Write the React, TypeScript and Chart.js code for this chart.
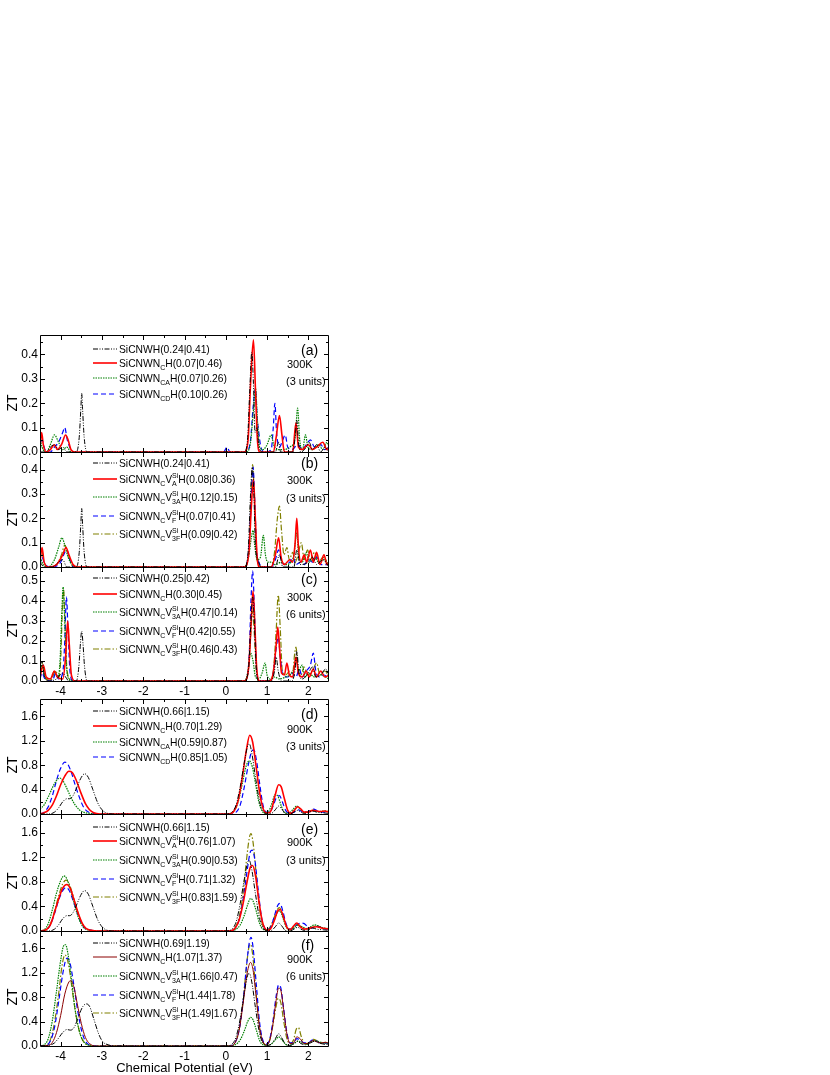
import React, { useEffect, useLayoutEffect, useRef } from 'react';
import { Chart, registerables } from 'chart.js';
Chart.register(...registerables);

type P = [number, number][];

const FONT = '"Liberation Sans", Arial, Helvetica, sans-serif';

const xMin = -4.5;
const xMax = 2.5;
const xTickValues = [-4, -3, -2, -1, 0, 1, 2];
const xTitle = 'Chemical Potential (eV)';
const yTitle = 'ZT';

const yTicksA = [0, 0.1, 0.2, 0.3, 0.4];
const yTicksC = [0, 0.1, 0.2, 0.3, 0.4, 0.5];
const yTicksD = [0, 0.4, 0.8, 1.2, 1.6];

// ---------------- panel (a) 300K 3 units ----------------
const a_SiCNWH: P = [[-4.5,0],[-4.35,0],[-4.25,0.02],[-4.15,0.03],[-4.05,0.01],[-3.95,0.02],[-3.85,0],[-3.62,0],[-3.55,0.06],[-3.51,0.18],[-3.49,0.24],[-3.47,0.18],[-3.43,0.06],[-3.36,0],[0.45,0],[0.53,0.06],[0.58,0.25],[0.63,0.41],[0.67,0.28],[0.71,0.08],[0.76,0.1],[0.8,0.02],[0.9,0],[1.2,0],[1.28,0.04],[1.33,0],[1.62,0],[1.68,0.06],[1.72,0.13],[1.76,0.04],[1.82,0],[1.95,0.02],[2.02,0.04],[2.1,0.01],[2.2,0.03],[2.3,0],[2.4,0.02],[2.5,0]];
const a_NC: P = [[-4.5,0.02],[-4.46,0.08],[-4.42,0.03],[-4.35,0],[-4.25,0.01],[-4.15,0.03],[-4.08,0.01],[-3.98,0.03],[-3.88,0.07],[-3.82,0.05],[-3.75,0.01],[-3.65,0],[0.45,0],[0.54,0.05],[0.6,0.28],[0.67,0.46],[0.72,0.25],[0.77,0.04],[0.83,0],[1.15,0],[1.22,0.06],[1.3,0.15],[1.36,0.07],[1.42,0],[1.62,0],[1.7,0.12],[1.76,0.02],[1.85,0.01],[2.0,0.03],[2.1,0.01],[2.2,0.02],[2.35,0.04],[2.45,0.01],[2.5,0.02]];
const a_NCA: P = [[-4.5,0.06],[-4.45,0.02],[-4.35,0],[-4.25,0.03],[-4.15,0.07],[-4.05,0.04],[-3.95,0.01],[-3.85,0.02],[-3.75,0],[0.5,0],[0.6,0.04],[0.66,0.15],[0.72,0.26],[0.77,0.12],[0.82,0.02],[0.9,0.01],[1.0,0.03],[1.1,0.07],[1.16,0.03],[1.24,0.01],[1.4,0.01],[1.55,0.02],[1.68,0.06],[1.74,0.18],[1.79,0.05],[1.86,0.01],[1.93,0.07],[1.99,0.02],[2.1,0.01],[2.25,0.03],[2.35,0.01],[2.45,0.04],[2.5,0.02]];
const a_NCD: P = [[-4.5,0.01],[-4.45,0.05],[-4.38,0.01],[-4.25,0],[-4.15,0.02],[-4.05,0.04],[-3.95,0.08],[-3.9,0.1],[-3.84,0.05],[-3.75,0.01],[-3.65,0],[-0.05,0],[0.03,0.02],[0.1,0],[0.5,0],[0.6,0.05],[0.66,0.18],[0.72,0.26],[0.76,0.14],[0.8,0.08],[0.85,0.02],[0.95,0],[1.1,0.01],[1.15,0.1],[1.19,0.2],[1.23,0.08],[1.3,0.02],[1.38,0.05],[1.44,0.07],[1.5,0.02],[1.6,0.01],[1.75,0.03],[1.85,0.01],[1.95,0.03],[2.05,0.05],[2.15,0.02],[2.3,0.03],[2.4,0.01],[2.5,0.02]];

// ---------------- panel (b) 300K 3 units ----------------
const b_SiCNWH: P = [[-4.5,0.02],[-4.4,0],[-4.2,0],[-4.05,0.02],[-3.95,0.03],[-3.85,0],[-3.62,0],[-3.55,0.06],[-3.51,0.18],[-3.49,0.24],[-3.47,0.18],[-3.43,0.06],[-3.36,0],[0.45,0],[0.54,0.06],[0.6,0.3],[0.64,0.41],[0.68,0.3],[0.72,0.08],[0.78,0.03],[0.85,0],[1.2,0],[1.3,0.05],[1.38,0],[1.65,0],[1.72,0.07],[1.8,0.01],[2.0,0.02],[2.1,0.04],[2.2,0.01],[2.35,0.03],[2.5,0]];
const b_VA: P = [[-4.5,0.02],[-4.45,0.08],[-4.4,0.02],[-4.3,0],[-4.1,0.01],[-3.95,0.05],[-3.87,0.08],[-3.8,0.05],[-3.7,0.01],[-3.6,0],[0.45,0],[0.56,0.06],[0.62,0.25],[0.67,0.36],[0.71,0.22],[0.76,0.04],[0.82,0],[1.1,0],[1.2,0.05],[1.28,0.12],[1.34,0.04],[1.42,0.01],[1.55,0.03],[1.62,0.02],[1.68,0.1],[1.72,0.2],[1.76,0.08],[1.82,0.02],[1.9,0.05],[1.96,0.02],[2.05,0.07],[2.12,0.02],[2.2,0.06],[2.28,0.01],[2.38,0.05],[2.45,0.01],[2.5,0.02]];
const b_V3A: P = [[-4.5,0.04],[-4.42,0.01],[-4.3,0],[-4.15,0.03],[-4.05,0.08],[-3.97,0.12],[-3.9,0.09],[-3.82,0.04],[-3.72,0.01],[-3.6,0],[0.45,0],[0.55,0.04],[0.62,0.12],[0.66,0.15],[0.7,0.09],[0.76,0.03],[0.84,0.04],[0.91,0.13],[0.96,0.05],[1.02,0.02],[1.1,0.02],[1.2,0.01],[1.35,0.02],[1.45,0.01],[1.58,0.02],[1.65,0.05],[1.72,0.14],[1.77,0.04],[1.85,0.02],[1.95,0.06],[2.02,0.02],[2.15,0.04],[2.25,0.02],[2.38,0.03],[2.5,0.01]];
const b_VF: P = [[-4.5,0.01],[-4.45,0.04],[-4.38,0.01],[-4.2,0],[-4.0,0.02],[-3.9,0.06],[-3.85,0.07],[-3.78,0.03],[-3.68,0],[0.45,0],[0.56,0.08],[0.62,0.3],[0.66,0.41],[0.7,0.28],[0.75,0.06],[0.8,0.02],[0.9,0],[1.1,0],[1.2,0.03],[1.28,0.07],[1.34,0.03],[1.42,0.01],[1.55,0.02],[1.62,0.04],[1.7,0.01],[1.82,0.02],[1.9,0.01],[2.0,0.03],[2.1,0.02],[2.2,0.04],[2.3,0.01],[2.5,0.01]];
const b_V3F: P = [[-4.5,0.03],[-4.46,0.07],[-4.4,0.02],[-4.3,0],[-4.1,0.01],[-3.98,0.05],[-3.9,0.09],[-3.83,0.06],[-3.74,0.01],[-3.65,0],[0.45,0],[0.56,0.07],[0.61,0.3],[0.65,0.42],[0.69,0.3],[0.74,0.06],[0.8,0.01],[0.9,0],[1.1,0],[1.18,0.06],[1.25,0.2],[1.3,0.25],[1.35,0.15],[1.41,0.05],[1.48,0.08],[1.54,0.03],[1.62,0.06],[1.68,0.02],[1.75,0.05],[1.83,0.1],[1.9,0.03],[1.98,0.07],[2.05,0.03],[2.15,0.06],[2.25,0.02],[2.35,0.04],[2.5,0.01]];

// ---------------- panel (c) 300K 6 units ----------------
const c_SiCNWH: P = [[-4.5,0.03],[-4.45,0.1],[-4.4,0.03],[-4.3,0],[-4.1,0.01],[-3.95,0.04],[-3.88,0.02],[-3.8,0],[-3.62,0],[-3.56,0.07],[-3.52,0.19],[-3.49,0.25],[-3.46,0.19],[-3.42,0.07],[-3.36,0],[0.45,0],[0.55,0.06],[0.61,0.3],[0.65,0.42],[0.69,0.3],[0.74,0.06],[0.8,0],[1.1,0],[1.18,0.05],[1.22,0.12],[1.27,0.05],[1.35,0],[1.6,0],[1.68,0.06],[1.72,0.15],[1.77,0.04],[1.85,0.01],[2.0,0.04],[2.1,0.07],[2.18,0.02],[2.3,0.03],[2.42,0.06],[2.5,0.02]];
const c_NC: P = [[-4.5,0.02],[-4.42,0.08],[-4.35,0.02],[-4.25,0.01],[-4.15,0.05],[-4.08,0.02],[-3.95,0.01],[-3.88,0.12],[-3.83,0.3],[-3.79,0.18],[-3.74,0.03],[-3.65,0],[0.45,0],[0.56,0.08],[0.62,0.32],[0.66,0.45],[0.7,0.3],[0.75,0.06],[0.82,0],[1.05,0],[1.15,0.04],[1.22,0.18],[1.26,0.27],[1.3,0.17],[1.35,0.04],[1.42,0.03],[1.48,0.09],[1.54,0.03],[1.62,0.02],[1.7,0.12],[1.76,0.04],[1.85,0.02],[1.95,0.05],[2.02,0.02],[2.12,0.06],[2.2,0.02],[2.3,0.05],[2.4,0.02],[2.5,0.03]];
const c_V3A: P = [[-4.5,0.02],[-4.45,0.08],[-4.38,0.02],[-4.25,0.01],[-4.15,0.05],[-4.08,0.02],[-4.02,0.08],[-3.97,0.35],[-3.94,0.47],[-3.91,0.35],[-3.86,0.08],[-3.8,0.01],[-3.7,0],[0.45,0],[0.53,0.04],[0.6,0.14],[0.66,0.1],[0.72,0.02],[0.8,0.01],[0.88,0.04],[0.95,0.09],[1.0,0.03],[1.08,0.01],[1.18,0.02],[1.3,0.01],[1.45,0.02],[1.55,0.03],[1.65,0.06],[1.71,0.12],[1.76,0.05],[1.85,0.08],[1.92,0.02],[2.0,0.04],[2.15,0.02],[2.3,0.03],[2.5,0.01]];
const c_VF: P = [[-4.5,0.01],[-4.45,0.04],[-4.38,0.01],[-4.2,0],[-4.12,0.04],[-4.05,0.01],[-3.95,0.04],[-3.9,0.2],[-3.86,0.42],[-3.82,0.25],[-3.77,0.04],[-3.7,0],[0.45,0],[0.56,0.1],[0.61,0.4],[0.65,0.55],[0.69,0.38],[0.74,0.08],[0.8,0],[1.05,0],[1.15,0.04],[1.22,0.16],[1.27,0.22],[1.32,0.12],[1.38,0.03],[1.5,0.02],[1.6,0.04],[1.7,0.02],[1.78,0.06],[1.85,0.02],[1.95,0.05],[2.05,0.08],[2.12,0.14],[2.18,0.05],[2.27,0.02],[2.38,0.03],[2.5,0.01]];
const c_V3F: P = [[-4.5,0.05],[-4.45,0.09],[-4.38,0.02],[-4.25,0],[-4.12,0.05],[-4.05,0.02],[-4.0,0.1],[-3.96,0.35],[-3.93,0.46],[-3.9,0.32],[-3.85,0.07],[-3.78,0.01],[-3.7,0],[0.45,0],[0.55,0.06],[0.61,0.25],[0.65,0.35],[0.69,0.24],[0.74,0.05],[0.8,0],[1.05,0],[1.15,0.05],[1.22,0.25],[1.27,0.43],[1.32,0.26],[1.37,0.05],[1.45,0.03],[1.55,0.05],[1.62,0.04],[1.67,0.14],[1.7,0.17],[1.75,0.06],[1.82,0.03],[1.9,0.07],[1.98,0.03],[2.1,0.05],[2.2,0.09],[2.28,0.03],[2.4,0.05],[2.5,0.02]];

// ---------------- panel (d) 900K 3 units ----------------
const d_SiCNWH: P = [[-4.5,0],[-4.3,0],[-4.15,0.03],[-4.05,0.1],[-3.95,0.2],[-3.85,0.25],[-3.78,0.25],[-3.7,0.3],[-3.6,0.45],[-3.5,0.6],[-3.42,0.66],[-3.33,0.6],[-3.22,0.4],[-3.1,0.18],[-3.0,0.07],[-2.9,0.02],[-2.75,0],[0.0,0],[0.15,0.03],[0.25,0.15],[0.35,0.45],[0.45,0.85],[0.53,1.12],[0.57,1.15],[0.63,1.0],[0.72,0.6],[0.82,0.2],[0.9,0.05],[1.0,0.01],[1.1,0.01],[1.2,0.07],[1.28,0.13],[1.36,0.08],[1.44,0.01],[1.55,0],[1.65,0.03],[1.74,0.06],[1.82,0.03],[1.9,0.01],[2.0,0.02],[2.1,0.05],[2.2,0.03],[2.35,0.02],[2.5,0.01]];
const d_NC: P = [[-4.5,0],[-4.4,0.02],[-4.3,0.06],[-4.2,0.15],[-4.1,0.3],[-4.0,0.48],[-3.9,0.62],[-3.8,0.7],[-3.72,0.68],[-3.62,0.55],[-3.5,0.33],[-3.4,0.17],[-3.3,0.07],[-3.2,0.02],[-3.05,0],[0.05,0],[0.2,0.05],[0.3,0.22],[0.4,0.6],[0.5,1.05],[0.58,1.29],[0.65,1.18],[0.73,0.8],[0.82,0.35],[0.9,0.1],[0.98,0.02],[1.05,0.02],[1.12,0.1],[1.2,0.32],[1.28,0.48],[1.34,0.45],[1.42,0.25],[1.5,0.06],[1.58,0.01],[1.66,0.06],[1.74,0.12],[1.82,0.08],[1.9,0.03],[2.0,0.03],[2.1,0.06],[2.2,0.05],[2.3,0.04],[2.4,0.05],[2.5,0.03]];
const d_NCA: P = [[-4.5,0.08],[-4.4,0.15],[-4.3,0.28],[-4.2,0.43],[-4.1,0.55],[-4.02,0.59],[-3.95,0.55],[-3.85,0.42],[-3.75,0.27],[-3.65,0.15],[-3.55,0.07],[-3.45,0.03],[-3.3,0.01],[-3.1,0],[0.05,0],[0.2,0.05],[0.3,0.2],[0.4,0.5],[0.5,0.8],[0.57,0.87],[0.64,0.78],[0.72,0.5],[0.8,0.2],[0.88,0.05],[0.96,0.01],[1.04,0.04],[1.12,0.18],[1.2,0.32],[1.27,0.28],[1.35,0.12],[1.43,0.02],[1.52,0.01],[1.62,0.07],[1.72,0.13],[1.8,0.08],[1.9,0.03],[2.0,0.04],[2.12,0.06],[2.25,0.04],[2.4,0.05],[2.5,0.04]];
const d_NCD: P = [[-4.5,0],[-4.4,0.03],[-4.3,0.12],[-4.2,0.3],[-4.1,0.55],[-4.0,0.75],[-3.9,0.85],[-3.83,0.82],[-3.75,0.7],[-3.65,0.48],[-3.55,0.28],[-3.45,0.12],[-3.35,0.04],[-3.2,0.01],[-3.05,0],[0.1,0],[0.25,0.03],[0.35,0.15],[0.45,0.45],[0.55,0.82],[0.63,1.03],[0.68,1.05],[0.75,0.85],[0.83,0.45],[0.9,0.15],[0.98,0.03],[1.06,0.03],[1.14,0.12],[1.22,0.26],[1.3,0.3],[1.37,0.2],[1.45,0.06],[1.55,0.01],[1.65,0.03],[1.75,0.07],[1.85,0.04],[1.95,0.03],[2.05,0.06],[2.13,0.08],[2.22,0.05],[2.35,0.03],[2.5,0.03]];

// ---------------- panel (e) 900K 3 units ----------------
const e_SiCNWH: P = [[-4.5,0],[-4.3,0],[-4.15,0.03],[-4.05,0.1],[-3.95,0.2],[-3.85,0.25],[-3.78,0.25],[-3.7,0.3],[-3.6,0.45],[-3.5,0.6],[-3.42,0.66],[-3.33,0.6],[-3.22,0.4],[-3.1,0.18],[-3.0,0.07],[-2.9,0.02],[-2.75,0],[0.0,0],[0.15,0.03],[0.25,0.15],[0.35,0.45],[0.45,0.85],[0.53,1.12],[0.57,1.15],[0.63,1.0],[0.72,0.6],[0.82,0.2],[0.9,0.05],[1.0,0.01],[1.1,0.01],[1.2,0.07],[1.28,0.13],[1.36,0.08],[1.44,0.01],[1.55,0],[1.65,0.03],[1.74,0.06],[1.82,0.03],[1.9,0.01],[2.0,0.02],[2.1,0.05],[2.2,0.03],[2.35,0.02],[2.5,0.01]];
const e_VA: P = [[-4.5,0],[-4.35,0.02],[-4.25,0.1],[-4.15,0.3],[-4.05,0.52],[-3.95,0.7],[-3.85,0.76],[-3.77,0.7],[-3.68,0.52],[-3.58,0.3],[-3.48,0.13],[-3.38,0.04],[-3.25,0.01],[-3.1,0],[0.1,0],[0.22,0.04],[0.32,0.17],[0.42,0.45],[0.52,0.82],[0.6,1.05],[0.65,1.07],[0.72,0.9],[0.8,0.5],[0.88,0.17],[0.95,0.04],[1.02,0.01],[1.1,0.05],[1.18,0.18],[1.26,0.33],[1.32,0.35],[1.4,0.22],[1.48,0.06],[1.56,0.02],[1.64,0.08],[1.72,0.13],[1.8,0.07],[1.9,0.03],[2.0,0.04],[2.1,0.06],[2.2,0.07],[2.32,0.05],[2.42,0.04],[2.5,0.03]];
const e_V3A: P = [[-4.5,0],[-4.4,0.02],[-4.3,0.12],[-4.2,0.35],[-4.1,0.62],[-4.0,0.82],[-3.92,0.9],[-3.85,0.85],[-3.76,0.67],[-3.66,0.42],[-3.56,0.2],[-3.46,0.07],[-3.35,0.02],[-3.2,0],[0.1,0],[0.25,0.03],[0.35,0.1],[0.45,0.26],[0.53,0.43],[0.6,0.53],[0.66,0.49],[0.74,0.32],[0.82,0.12],[0.9,0.03],[1.0,0.01],[1.08,0.04],[1.17,0.17],[1.25,0.3],[1.31,0.33],[1.38,0.22],[1.47,0.06],[1.55,0.01],[1.65,0.05],[1.75,0.1],[1.85,0.07],[1.95,0.04],[2.05,0.07],[2.15,0.1],[2.25,0.08],[2.35,0.05],[2.5,0.04]];
const e_VF: P = [[-4.5,0],[-4.35,0.02],[-4.25,0.1],[-4.15,0.28],[-4.05,0.5],[-3.95,0.66],[-3.87,0.71],[-3.8,0.67],[-3.7,0.5],[-3.6,0.3],[-3.5,0.13],[-3.4,0.04],[-3.25,0.01],[-3.1,0],[0.1,0],[0.22,0.04],[0.32,0.18],[0.42,0.52],[0.52,1.0],[0.6,1.3],[0.64,1.32],[0.7,1.18],[0.78,0.7],[0.86,0.25],[0.94,0.05],[1.02,0.02],[1.1,0.08],[1.18,0.25],[1.26,0.42],[1.31,0.45],[1.38,0.33],[1.46,0.12],[1.54,0.03],[1.62,0.04],[1.72,0.1],[1.82,0.13],[1.9,0.12],[2.0,0.06],[2.1,0.05],[2.2,0.08],[2.3,0.06],[2.4,0.04],[2.5,0.03]];
const e_V3F: P = [[-4.5,0],[-4.35,0.02],[-4.25,0.11],[-4.15,0.32],[-4.05,0.57],[-3.95,0.77],[-3.87,0.83],[-3.8,0.78],[-3.7,0.58],[-3.6,0.34],[-3.5,0.15],[-3.4,0.05],[-3.25,0.01],[-3.1,0],[0.1,0],[0.22,0.05],[0.32,0.22],[0.42,0.62],[0.5,1.15],[0.57,1.52],[0.61,1.59],[0.66,1.45],[0.74,0.9],[0.82,0.35],[0.9,0.08],[0.98,0.02],[1.06,0.05],[1.15,0.18],[1.24,0.34],[1.3,0.38],[1.37,0.28],[1.45,0.1],[1.54,0.03],[1.62,0.05],[1.72,0.1],[1.8,0.08],[1.9,0.04],[2.0,0.04],[2.1,0.06],[2.2,0.09],[2.3,0.06],[2.4,0.04],[2.5,0.03]];

// ---------------- panel (f) 900K 6 units ----------------
const f_SiCNWH: P = [[-4.5,0],[-4.3,0.01],[-4.15,0.05],[-4.05,0.13],[-3.95,0.22],[-3.85,0.27],[-3.76,0.26],[-3.66,0.32],[-3.56,0.5],[-3.46,0.65],[-3.38,0.69],[-3.3,0.65],[-3.2,0.45],[-3.08,0.2],[-2.98,0.07],[-2.85,0.02],[-2.7,0],[0.0,0],[0.15,0.03],[0.25,0.15],[0.35,0.45],[0.45,0.88],[0.53,1.16],[0.57,1.19],[0.63,1.05],[0.72,0.62],[0.82,0.2],[0.9,0.05],[1.0,0.01],[1.1,0.03],[1.2,0.12],[1.28,0.2],[1.36,0.13],[1.44,0.03],[1.55,0.01],[1.65,0.04],[1.74,0.08],[1.82,0.04],[1.92,0.02],[2.05,0.05],[2.15,0.08],[2.25,0.05],[2.38,0.03],[2.5,0.02]];
const f_NC: P = [[-4.5,0],[-4.3,0.01],[-4.2,0.06],[-4.1,0.22],[-4.0,0.5],[-3.9,0.85],[-3.8,1.05],[-3.75,1.07],[-3.68,0.97],[-3.6,0.7],[-3.5,0.37],[-3.4,0.14],[-3.3,0.04],[-3.15,0],[0.1,0],[0.22,0.05],[0.32,0.25],[0.42,0.7],[0.52,1.2],[0.6,1.37],[0.66,1.25],[0.74,0.78],[0.82,0.3],[0.9,0.07],[0.98,0.02],[1.06,0.08],[1.14,0.35],[1.22,0.75],[1.28,0.95],[1.33,0.92],[1.4,0.6],[1.48,0.2],[1.56,0.04],[1.64,0.05],[1.72,0.15],[1.8,0.12],[1.9,0.04],[2.0,0.04],[2.1,0.09],[2.2,0.07],[2.3,0.05],[2.42,0.06],[2.5,0.04]];
const f_V3A: P = [[-4.5,0],[-4.4,0.02],[-4.3,0.12],[-4.2,0.42],[-4.1,0.9],[-4.0,1.4],[-3.93,1.64],[-3.88,1.66],[-3.82,1.5],[-3.74,1.1],[-3.65,0.6],[-3.55,0.25],[-3.45,0.08],[-3.35,0.02],[-3.2,0],[0.1,0],[0.25,0.03],[0.35,0.1],[0.45,0.25],[0.53,0.4],[0.6,0.47],[0.66,0.43],[0.74,0.26],[0.82,0.09],[0.9,0.02],[1.0,0.01],[1.1,0.03],[1.2,0.1],[1.28,0.15],[1.36,0.1],[1.45,0.03],[1.55,0.01],[1.65,0.04],[1.75,0.08],[1.85,0.05],[1.95,0.03],[2.05,0.06],[2.15,0.09],[2.25,0.07],[2.38,0.05],[2.5,0.04]];
const f_VF: P = [[-4.5,0],[-4.35,0.01],[-4.25,0.08],[-4.15,0.3],[-4.05,0.72],[-3.95,1.18],[-3.87,1.42],[-3.83,1.44],[-3.77,1.35],[-3.68,1.0],[-3.58,0.55],[-3.48,0.22],[-3.38,0.06],[-3.25,0.01],[-3.1,0],[0.1,0],[0.22,0.05],[0.32,0.25],[0.42,0.72],[0.5,1.3],[0.57,1.7],[0.61,1.78],[0.66,1.62],[0.74,1.0],[0.82,0.38],[0.9,0.09],[0.98,0.03],[1.06,0.1],[1.14,0.4],[1.22,0.82],[1.28,1.0],[1.33,0.96],[1.4,0.62],[1.48,0.22],[1.56,0.05],[1.64,0.05],[1.72,0.12],[1.8,0.1],[1.9,0.05],[2.0,0.05],[2.1,0.1],[2.2,0.08],[2.3,0.05],[2.42,0.05],[2.5,0.03]];
const f_V3F: P = [[-4.5,0],[-4.35,0.01],[-4.25,0.1],[-4.15,0.38],[-4.05,0.85],[-3.97,1.3],[-3.9,1.49],[-3.85,1.45],[-3.78,1.22],[-3.7,0.82],[-3.6,0.4],[-3.5,0.14],[-3.4,0.04],[-3.25,0],[0.1,0],[0.22,0.05],[0.32,0.25],[0.42,0.75],[0.5,1.3],[0.56,1.62],[0.6,1.67],[0.65,1.5],[0.73,0.9],[0.81,0.33],[0.89,0.08],[0.97,0.02],[1.05,0.07],[1.13,0.3],[1.21,0.62],[1.27,0.78],[1.33,0.72],[1.4,0.42],[1.48,0.12],[1.56,0.04],[1.64,0.1],[1.71,0.28],[1.76,0.3],[1.83,0.15],[1.92,0.04],[2.02,0.05],[2.12,0.11],[2.22,0.08],[2.32,0.05],[2.42,0.06],[2.5,0.04]];

// ---------------- legend texts ----------------
const legendA = ['SiCNWH(0.24|0.41)', 'SiCNWN_{C}H(0.07|0.46)', 'SiCNWN_{CA}H(0.07|0.26)', 'SiCNWN_{CD}H(0.10|0.26)'];
const legendB = ['SiCNWH(0.24|0.41)', 'SiCNWN_{C}V^{Si}_{A}H(0.08|0.36)', 'SiCNWN_{C}V^{Si}_{3A}H(0.12|0.15)', 'SiCNWN_{C}V^{Si}_{F}H(0.07|0.41)', 'SiCNWN_{C}V^{Si}_{3F}H(0.09|0.42)'];
const legendC = ['SiCNWH(0.25|0.42)', 'SiCNWN_{C}H(0.30|0.45)', 'SiCNWN_{C}V^{Si}_{3A}H(0.47|0.14)', 'SiCNWN_{C}V^{Si}_{F}H(0.42|0.55)', 'SiCNWN_{C}V^{Si}_{3F}H(0.46|0.43)'];
const legendD = ['SiCNWH(0.66|1.15)', 'SiCNWN_{C}H(0.70|1.29)', 'SiCNWN_{CA}H(0.59|0.87)', 'SiCNWN_{CD}H(0.85|1.05)'];
const legendE = ['SiCNWH(0.66|1.15)', 'SiCNWN_{C}V^{Si}_{A}H(0.76|1.07)', 'SiCNWN_{C}V^{Si}_{3A}H(0.90|0.53)', 'SiCNWN_{C}V^{Si}_{F}H(0.71|1.32)', 'SiCNWN_{C}V^{Si}_{3F}H(0.83|1.59)'];
const legendF = ['SiCNWH(0.69|1.19)', 'SiCNWN_{C}H(1.07|1.37)', 'SiCNWN_{C}V^{Si}_{3A}H(1.66|0.47)', 'SiCNWN_{C}V^{Si}_{F}H(1.44|1.78)', 'SiCNWN_{C}V^{Si}_{3F}H(1.49|1.67)'];

const panelLetters = ['(a)', '(b)', '(c)', '(d)', '(e)', '(f)'];
const tempLabels = ['300K', '300K', '300K', '900K', '900K', '900K'];
const unitLabels = ['(3 units)', '(3 units)', '(6 units)', '(3 units)', '(3 units)', '(6 units)'];

type StyleKey = 'black' | 'red' | 'green' | 'blue' | 'olive' | 'maroon';
const STYLES: Record<StyleKey, { color: string; width: number; dash: number[] }> = {
  black: { color: '#000000', width: 1, dash: [5, 1.5, 1, 1.5, 1, 1.5] },
  red: { color: '#ff0000', width: 1.6, dash: [] },
  green: { color: '#008000', width: 1.2, dash: [1.5, 1] },
  blue: { color: '#0000ff', width: 1.2, dash: [5, 3] },
  olive: { color: '#808000', width: 1.2, dash: [6, 2, 1.5, 2] },
  maroon: { color: '#8b0000', width: 1, dash: [] },
};

interface PanelCfg {
  idx: number;
  top: number;
  bottom: number;
  yMax: number;
  yTicks: number[];
  xAxis: 'none' | 'ticks' | 'title';
  series: { data: P; style: StyleKey }[];
  legend: string[];
  legendY: number[];
  letterY: number;
  tempY: number;
  unitY: number;
  ztY: number;
}

const PANELS: PanelCfg[] = [
  { idx: 0, top: 335, bottom: 452, yMax: 0.48, yTicks: yTicksA, xAxis: 'none',
    series: [{ data: a_SiCNWH, style: 'black' }, { data: a_NC, style: 'red' }, { data: a_NCA, style: 'green' }, { data: a_NCD, style: 'blue' }],
    legend: legendA, legendY: [349, 363, 378, 394], letterY: 351, tempY: 365, unitY: 382, ztY: 403 },
  { idx: 1, top: 452, bottom: 567, yMax: 0.472, yTicks: yTicksA, xAxis: 'none',
    series: [{ data: b_SiCNWH, style: 'black' }, { data: b_VA, style: 'red' }, { data: b_V3A, style: 'green' }, { data: b_VF, style: 'blue' }, { data: b_V3F, style: 'olive' }],
    legend: legendB, legendY: [463, 479, 497, 516, 534], letterY: 464, tempY: 481, unitY: 499, ztY: 518 },
  { idx: 2, top: 567, bottom: 681, yMax: 0.57, yTicks: yTicksC, xAxis: 'ticks',
    series: [{ data: c_SiCNWH, style: 'black' }, { data: c_NC, style: 'red' }, { data: c_V3A, style: 'green' }, { data: c_VF, style: 'blue' }, { data: c_V3F, style: 'olive' }],
    legend: legendC, legendY: [578, 594, 612, 631, 649], letterY: 580, tempY: 598, unitY: 615, ztY: 629 },
  { idx: 3, top: 699, bottom: 814, yMax: 1.885, yTicks: yTicksD, xAxis: 'none',
    series: [{ data: d_SiCNWH, style: 'black' }, { data: d_NC, style: 'red' }, { data: d_NCA, style: 'green' }, { data: d_NCD, style: 'blue' }],
    legend: legendD, legendY: [711, 726, 742, 757], letterY: 715, tempY: 730, unitY: 747, ztY: 765 },
  { idx: 4, top: 814, bottom: 931, yMax: 1.91, yTicks: yTicksD, xAxis: 'none',
    series: [{ data: e_SiCNWH, style: 'black' }, { data: e_VA, style: 'red' }, { data: e_V3A, style: 'green' }, { data: e_VF, style: 'blue' }, { data: e_V3F, style: 'olive' }],
    legend: legendE, legendY: [827, 841, 860, 879, 897], letterY: 830, tempY: 843, unitY: 861, ztY: 881 },
  { idx: 5, top: 931, bottom: 1046, yMax: 1.885, yTicks: yTicksD, xAxis: 'title',
    series: [{ data: f_SiCNWH, style: 'black' }, { data: f_NC, style: 'maroon' }, { data: f_V3A, style: 'green' }, { data: f_VF, style: 'blue' }, { data: f_V3F, style: 'olive' }],
    legend: legendF, legendY: [943, 957, 976, 995, 1013], letterY: 946, tempY: 960, unitY: 977, ztY: 997 },
];

const CANVAS_W = 340;
const PLOT_LEFT = 40;
const PLOT_RIGHT = 329;
const PAGE_H = 1075;

function drawRich(ctx: CanvasRenderingContext2D, text: string, x: number, cy: number, size: number) {
  const base = cy + size * 0.36;
  const main = `${size}px ${FONT}`;
  const small = `${(size * 0.68).toFixed(2)}px ${FONT}`;
  ctx.textAlign = 'left';
  ctx.textBaseline = 'alphabetic';
  let i = 0;
  let cx = x;
  const isMark = (k: number) => (text[k] === '_' || text[k] === '^') && text[k + 1] === '{';
  while (i < text.length) {
    if (isMark(i)) {
      let sup = '';
      let sub = '';
      while (i < text.length && isMark(i)) {
        const end = text.indexOf('}', i);
        const s = text.slice(i + 2, end);
        if (text[i] === '^') sup = s; else sub = s;
        i = end + 1;
      }
      ctx.font = small;
      const w = Math.max(sup ? ctx.measureText(sup).width : 0, sub ? ctx.measureText(sub).width : 0);
      if (sup) ctx.fillText(sup, cx, base - size * 0.5);
      if (sub) ctx.fillText(sub, cx, base + size * 0.32);
      cx += w;
    } else {
      let j = i;
      while (j < text.length && !isMark(j)) j++;
      const s = text.slice(i, j);
      ctx.font = main;
      ctx.fillText(s, cx, base);
      cx += ctx.measureText(s).width;
      i = j;
    }
  }
}

function Panel({ cfg }: { cfg: PanelCfg }) {
  const ref = useRef<HTMLCanvasElement | null>(null);
  const canvasTop = cfg.top - 10;
  const bottomExtra = cfg.xAxis === 'none' ? 10 : cfg.xAxis === 'ticks' ? 20 : PAGE_H - cfg.bottom;
  const canvasH = cfg.bottom - cfg.top + 10 + bottomExtra;

  useEffect(() => {
    const canvas = ref.current;
    if (!canvas) return;

    const decor = {
      id: 'decor' + cfg.idx,
      afterDatasetsDraw(chart: any) {
        const ctx: CanvasRenderingContext2D = chart.ctx;
        const { left, right, top, bottom } = chart.chartArea;
        const xs = chart.scales.x;
        const ys = chart.scales.y;
        ctx.save();
        ctx.strokeStyle = '#000';
        ctx.lineWidth = 1;
        ctx.setLineDash([]);
        const L = Math.round(left) + 0.5;
        const R = Math.round(right) - 0.5;
        const T = Math.round(top) + 0.5;
        const B = Math.round(bottom) + 0.5;
        ctx.beginPath();
        ctx.moveTo(L, T); ctx.lineTo(R, T); ctx.lineTo(R, B); ctx.lineTo(L, B); ctx.closePath();
        ctx.stroke();
        // x ticks (inward, top and bottom)
        const xMajor = xTickValues;
        const xMinor: number[] = [];
        for (let k = 0; k < xMajor.length; k++) {
          const m = xMajor[k] - 0.5;
          if (m > xMin) xMinor.push(m);
        }
        const lastX = xMajor[xMajor.length - 1] + 0.5;
        if (lastX < xMax) xMinor.push(lastX);
        ctx.beginPath();
        for (const v of xMajor) {
          const px = Math.round(xs.getPixelForValue(v)) + 0.5;
          ctx.moveTo(px, B); ctx.lineTo(px, B - 4.5);
          ctx.moveTo(px, T); ctx.lineTo(px, T + 4.5);
        }
        for (const v of xMinor) {
          const px = Math.round(xs.getPixelForValue(v)) + 0.5;
          ctx.moveTo(px, B); ctx.lineTo(px, B - 2.5);
          ctx.moveTo(px, T); ctx.lineTo(px, T + 2.5);
        }
        // y ticks (inward, left and right)
        const yMajor = cfg.yTicks;
        const step = yMajor[1] - yMajor[0];
        const yMinor: number[] = [];
        for (let k = 0; k < yMajor.length; k++) {
          const m = yMajor[k] + step / 2;
          if (m < cfg.yMax) yMinor.push(m);
        }
        for (const v of yMajor) {
          if (v === 0) continue;
          const py = Math.round(ys.getPixelForValue(v)) + 0.5;
          ctx.moveTo(L, py); ctx.lineTo(L + 4.5, py);
          ctx.moveTo(R, py); ctx.lineTo(R - 4.5, py);
        }
        for (const v of yMinor) {
          const py = Math.round(ys.getPixelForValue(v)) + 0.5;
          ctx.moveTo(L, py); ctx.lineTo(L + 2.5, py);
          ctx.moveTo(R, py); ctx.lineTo(R - 2.5, py);
        }
        ctx.stroke();

        // legend
        cfg.legend.forEach((txt, i) => {
          const st = STYLES[cfg.series[i].style];
          const y = cfg.legendY[i] - canvasTop;
          ctx.beginPath();
          ctx.strokeStyle = st.color;
          ctx.lineWidth = st.width;
          ctx.setLineDash(st.dash);
          ctx.moveTo(93, y);
          ctx.lineTo(117, y);
          ctx.stroke();
          ctx.setLineDash([]);
          ctx.fillStyle = '#000';
          drawRich(ctx, txt, 119, y, 10.3);
        });

        // panel labels
        ctx.fillStyle = '#000';
        ctx.textAlign = 'left';
        ctx.textBaseline = 'middle';
        ctx.font = `14px ${FONT}`;
        ctx.fillText(panelLetters[cfg.idx], 301, cfg.letterY - canvasTop);
        ctx.font = `11px ${FONT}`;
        ctx.fillText(tempLabels[cfg.idx], 287, cfg.tempY - canvasTop);
        ctx.fillText(unitLabels[cfg.idx], 286, cfg.unitY - canvasTop);

        // y title
        ctx.save();
        ctx.translate(13, cfg.ztY - canvasTop);
        ctx.rotate(-Math.PI / 2);
        ctx.textAlign = 'center';
        ctx.textBaseline = 'middle';
        ctx.font = `14px ${FONT}`;
        ctx.fillText(yTitle, 0, 0);
        ctx.restore();

        // x title
        if (cfg.xAxis === 'title') {
          ctx.textAlign = 'center';
          ctx.textBaseline = 'middle';
          ctx.font = `13px ${FONT}`;
          ctx.fillText(xTitle, (PLOT_LEFT + PLOT_RIGHT) / 2, 1068 - canvasTop);
        }
        ctx.restore();
      },
    };

    const xAxisH = cfg.xAxis === 'none' ? 0 : cfg.xAxis === 'ticks' ? 20 : PAGE_H - cfg.bottom;

    const chart = new Chart(canvas, {
      type: 'line',
      data: {
        datasets: cfg.series.map((s, i) => {
          const st = STYLES[s.style];
          return {
            label: cfg.legend[i],
            data: s.data.map(([x, y]) => ({ x, y })),
            borderColor: st.color,
            backgroundColor: st.color,
            borderWidth: st.width,
            borderDash: st.dash,
            pointRadius: 0,
            fill: false,
            cubicInterpolationMode: 'monotone',
            borderJoinStyle: 'round',
          } as any;
        }),
      },
      options: {
        animation: false,
        responsive: false,
        maintainAspectRatio: false,
        events: [],
        layout: { padding: { top: 10, left: 0, right: CANVAS_W - PLOT_RIGHT, bottom: cfg.xAxis === 'none' ? 10 : 0 } },
        plugins: { legend: { display: false }, tooltip: { enabled: false }, title: { display: false } },
        scales: {
          x: {
            type: 'linear',
            min: xMin,
            max: xMax,
            display: cfg.xAxis !== 'none',
            grid: { display: false, drawTicks: false },
            border: { display: false },
            ticks: {
              padding: 3,
              color: '#000',
              maxRotation: 0,
              autoSkip: false,
              font: { family: FONT, size: 12 },
              callback: (v: any) => String(v),
            },
            afterBuildTicks: (ax: any) => {
              ax.ticks = xTickValues.map((v) => ({ value: v }));
            },
            afterFit: (ax: any) => {
              ax.height = xAxisH;
            },
          },
          y: {
            type: 'linear',
            min: 0,
            max: cfg.yMax,
            grid: { display: false, drawTicks: false },
            border: { display: false },
            ticks: {
              padding: 2,
              color: '#000',
              autoSkip: false,
              font: { family: FONT, size: 12 },
              callback: (v: any) => Number(v).toFixed(1),
            },
            afterBuildTicks: (ax: any) => {
              ax.ticks = cfg.yTicks.map((v) => ({ value: v }));
            },
            afterFit: (ax: any) => {
              ax.width = PLOT_LEFT;
            },
          },
        },
      } as any,
      plugins: [decor],
    });
    return () => chart.destroy();
  }, []);

  return (
    <canvas
      ref={ref}
      width={CANVAS_W}
      height={canvasH}
      style={{ position: 'absolute', left: 0, top: canvasTop, width: CANVAS_W, height: canvasH, display: 'block' }}
    />
  );
}

export default function App() {
  useLayoutEffect(() => {
    document.body.style.margin = '0';
  }, []);
  return (
    <div style={{ position: 'relative', width: 830, height: PAGE_H, overflow: 'hidden', background: '#fff' }}>
      {PANELS.map((p) => (
        <Panel key={p.idx} cfg={p} />
      ))}
    </div>
  );
}
